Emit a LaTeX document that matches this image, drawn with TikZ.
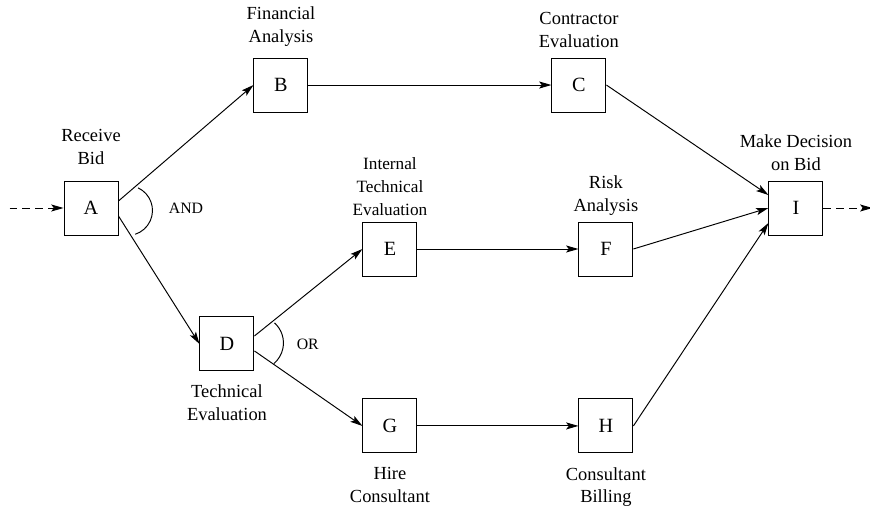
\documentclass[tikz,border=0pt]{standalone}
\usepackage{fontspec}
\setmainfont{Liberation Serif}
\usepackage{tikz}
\usetikzlibrary{arrows.meta,positioning}

\begin{document}
\begin{tikzpicture}[
    node distance=0.3cm and 0.5cm,
    box/.style={draw, minimum size=1.08cm, inner sep=0pt, line width=0.55pt, font=\fontsize{11.5}{14}\selectfont},
    lbl/.style={align=center, inner sep=0pt, text depth=0pt, font=\fontsize{10.5}{13}\selectfont},
    gatelbl/.style={inner sep=0pt, font=\fontsize{9}{11}\selectfont},
    arr/.style={-{Stealth[length=7pt, width=4pt, inset=1.5pt]}, line width=0.55pt},
    flow/.style={arr, dash pattern=on 4.5pt off 2.8pt},
    gate/.style={line width=0.55pt},
  ]
  \useasboundingbox (0,0) rectangle (17.4,-10.14);

  % Activities
  \node[box] (A) at (1.82,-4.16) {A};
  \node[box, above right=1.36cm and 2.7cm of A] (B) {B};
  \node[box, right=4.86cm of B] (C) {C};
  \node[box, below right=1.62cm and 1.62cm of A] (D) {D};
  \node[box, above right=0.8cm and 2.16cm of D] (E) {E};
  \node[box, below right=0.54cm and 2.16cm of D] (G) {G};
  \node[box, right=3.22cm of E] (F) {F};
  \node[box, right=3.22cm of G] (H) {H};
  \node[box, below right=1.36cm and 3.24cm of C] (I) {I};

  % Entry and exit
  \coordinate[left=1.08cm of A] (start);
  \coordinate[right=0.98cm of I] (finish);

  % Labels
  \node[lbl, above=0.32cm of A] (recv) {Receive\\Bid};
  \node[lbl, above=0.3cm of B] (fin) {Financial\\Analysis};
  \node[lbl, above=0.2cm of C] (contr) {Contractor\\Evaluation};
  \node[lbl, above=0.12cm of E, font=\fontsize{9.8}{13}\selectfont] (inttech) {Internal\\Technical\\Evaluation};
  \node[lbl, above=0.2cm of F] (risk) {Risk\\Analysis};
  \node[lbl, above=0.2cm of I] (decide) {Make Decision\\on Bid};
  \node[lbl, below=0.26cm of D] (tech) {Technical\\Evaluation};
  \node[lbl, below=0.27cm of G] (hire) {Hire\\Consultant};
  \node[lbl, below=0.27cm of H] (bill) {Consultant\\Billing};

  % Gates
  \node[gatelbl, right=1cm of A] (and) {AND};
  \node[gatelbl, right=0.84cm of D] (or) {OR};
  \draw[gate] ([xshift=0.18cm, yshift=-0.05cm]A.east) ++(65:0.5) arc[start angle=65, end angle=-72, radius=0.5];
  \draw[gate] ([xshift=0.04cm, yshift=0.02cm]D.east) ++(48:0.54) arc[start angle=48, end angle=-50, radius=0.54];

  % Arrows
  \draw[flow] (start) -- (A);
  \draw[arr] ([yshift=0.14cm]A.east) -- (B.west);
  \draw[arr] ([yshift=-0.16cm]A.east) -- (D.west);
  \draw[arr] (B) -- (C);
  \draw[arr] ([yshift=0.16cm]D.east) -- (E.west);
  \draw[arr] ([yshift=-0.14cm]D.east) -- (G.west);
  \draw[arr] (E) -- (F);
  \draw[arr] (G) -- (H);
  \draw[arr] (C.east) -- ([yshift=0.26cm]I.west);
  \draw[arr] (F.east) -- (I.west);
  \draw[arr] (H.east) -- ([yshift=-0.3cm]I.west);
  \draw[flow] (I) -- (finish);
\end{tikzpicture}
\end{document}
